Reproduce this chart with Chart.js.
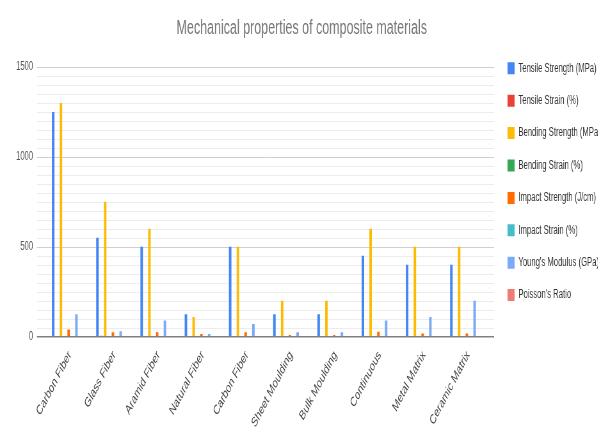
<!DOCTYPE html>
<html>
<head>
<meta charset="utf-8">
<script src="https://cdn.jsdelivr.net/npm/chart.js@4.4.1/dist/chart.umd.min.js"></script>
<style>
  html, body { margin: 0; padding: 0; background: #ffffff; }
  #frame { width: 598px; height: 428px; overflow: hidden; position: relative; }
  /* the chart is laid out wide and compressed horizontally */
  #stage { position: absolute; left: 0; top: 0; width: 943px; height: 428px;
           transform: scaleX(0.64); transform-origin: 0 0; }
</style>
</head>
<body>
<div id="frame"><div id="stage"><canvas id="chart" width="943" height="428"></canvas></div></div>
<script>
const categories = ['Carbon Fiber', 'Glass Fiber', 'Aramid Fiber', 'Natural Fiber', 'Carbon Fiber',
                    'Sheet Moulding', 'Bulk Moulding', 'Continuous', 'Metal Matrix', 'Ceramic Matrix'];

const tensileStrength = [1250, 550, 500, 125, 500, 125, 125, 450, 400, 400];
const tensileStrain   = [1.5, 4.8, 3.5, 2.5, 1.5, 1.5, 1.0, 2.0, 1.0, 0.5];
const bendingStrength = [1300, 750, 600, 110, 500, 200, 200, 600, 500, 500];
const bendingStrain   = [1.8, 2.5, 2.2, 2.0, 1.6, 1.5, 1.2, 2.0, 1.2, 0.8];
const impactStrength  = [40, 25, 25, 15, 25, 10, 10, 28, 18, 18];
const impactStrain    = [1.2, 2.5, 2.0, 1.5, 1.2, 1.0, 1.0, 1.5, 0.8, 0.5];
const youngsModulus   = [125, 30, 90, 15, 70, 25, 25, 90, 110, 200];
const poissonsRatio   = [0.3, 0.22, 0.36, 0.3, 0.3, 0.3, 0.3, 0.28, 0.33, 0.2];

const seriesNames = ['Tensile Strength (MPa)', 'Tensile Strain (%)', 'Bending Strength (MPa)',
                     'Bending Strain (%)', 'Impact Strength (J/cm)', 'Impact Strain (%)',
                     "Young's Modulus (GPa)", "Poisson's Ratio"];
const seriesValues = [tensileStrength, tensileStrain, bendingStrength, bendingStrain,
                      impactStrength, impactStrain, youngsModulus, poissonsRatio];
const seriesColors = ['#4285f4', '#ea4335', '#fbbc04', '#34a853',
                      '#ff6d01', '#46bdc6', '#7baaf7', '#f07b72'];

const yMin = 0, yMax = 1500, yStep = 500, yMinorStep = 50;

// horizontal grid, drawn a little wider than the plot area
const gridLines = {
  id: 'gridLines',
  beforeDatasetsDraw(chart) {
    const { ctx, chartArea: a, scales: { y } } = chart;
    ctx.save();
    ctx.lineWidth = 1;
    for (let v = yMin + yMinorStep; v <= yMax; v += yMinorStep) {
      const py = Math.round(y.getPixelForValue(v)) + 0.5;
      ctx.strokeStyle = (v % yStep === 0) ? '#cfcfcf' : '#ececec';
      ctx.beginPath();
      ctx.moveTo(a.left - 12, py);
      ctx.lineTo(a.right + 11, py);
      ctx.stroke();
    }
    ctx.restore();
  },
  afterDatasetsDraw(chart) {
    const { ctx, chartArea: a, scales: { y } } = chart;
    const py = y.getPixelForValue(yMin);
    ctx.save();
    ctx.strokeStyle = '#808080';
    ctx.lineWidth = 1.6;
    ctx.beginPath();
    ctx.moveTo(a.left - 12, py);
    ctx.lineTo(a.right + 11, py);
    ctx.stroke();
    ctx.restore();
  }
};

Chart.defaults.font.family = "'Liberation Sans', Arial, sans-serif";

new Chart(document.getElementById('chart'), {
  type: 'bar',
  data: {
    labels: categories,
    datasets: seriesNames.map((name, i) => ({
      label: name,
      data: seriesValues[i],
      backgroundColor: seriesColors[i],
      borderWidth: 0,
      categoryPercentage: 0.7,
      barPercentage: 0.65
    }))
  },
  options: {
    responsive: false,
    animation: false,
    devicePixelRatio: 1,
    layout: { padding: 0 },
    plugins: {
      title: {
        display: true,
        text: 'Mechanical properties of composite materials',
        color: '#757575',
        font: { size: 19.5, weight: 'normal' },
        padding: { top: 17, bottom: 26.6 }
      },
      legend: {
        position: 'right',
        align: 'start',
        maxWidth: 170.4,
        title: { display: true, text: ' ', font: { size: 10 }, padding: { top: 29.9, bottom: 0 } },
        labels: { boxWidth: 11, boxHeight: 12, padding: 20.4, color: '#333333', font: { size: 12 } }
      },
      tooltip: { enabled: false }
    },
    scales: {
      x: {
        grid: { display: false, drawTicks: false },
        border: { display: false },
        ticks: { autoSkip: false, minRotation: 51, maxRotation: 51, color: '#444444',
                 font: { size: 13.5 }, padding: 11, labelOffset: 5 },
        afterFit(scale) { scale.height = 91.3; }
      },
      y: {
        min: yMin, max: yMax,
        grid: { display: false, drawTicks: false },
        border: { display: false },
        ticks: { stepSize: yStep, padding: 18, color: '#555555', font: { size: 12 },
                 callback: (value) => String(value) },
        afterFit(scale) { scale.width = 69.7; }
      },
      gap: {
        type: 'linear', position: 'right', display: false,
        afterFit(scale) { scale.width = 11.6; }
      }
    }
  },
  plugins: [gridLines]
});
</script>
</body>
</html>
